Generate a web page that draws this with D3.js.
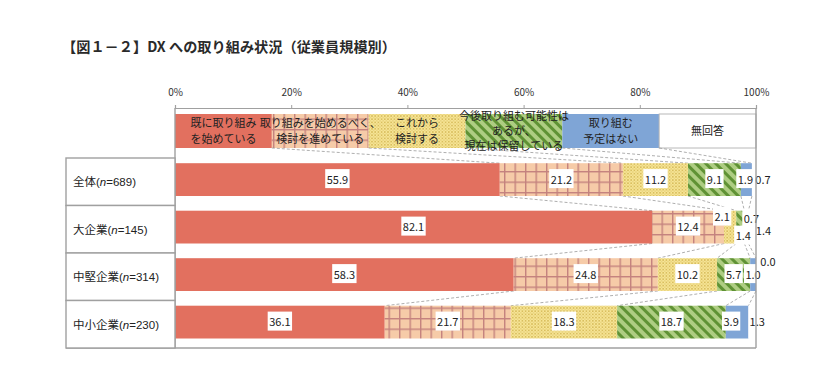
<!DOCTYPE html>
<html><head><meta charset="utf-8">
<script src="https://cdn.jsdelivr.net/npm/d3@7"></script>
<style>
body{margin:0;background:#fff;}
svg{display:block;}
text{font-family:"Noto Sans CJK JP","Noto Sans",sans-serif;}
</style></head>
<body>
<svg id="c" width="826" height="381"></svg>
<script>
const title = "【図１－２】DX への取り組み状況（従業員規模別）";
const categories = ["全体", "大企業", "中堅企業", "中小企業"];
const sampleSizes = [689, 145, 314, 230];
const seriesNames = [
  ["既に取り組み", "を始めている"],
  ["取り組みを始めるべく、", "検討を進めている"],
  ["これから", "検討する"],
  ["今後取り組む可能性は", "あるが、", "現在は保留している"],
  ["取り組む", "予定はない"],
  ["無回答"]
];
const startedValues   = [55.9, 82.1, 58.3, 36.1];
const consideringValues = [21.2, 12.4, 24.8, 21.7];
const fromNowValues   = [11.2, 2.1, 10.2, 18.3];
const onHoldValues    = [9.1, 1.4, 5.7, 18.7];
const noPlanValues    = [1.9, 0.7, 1.0, 3.9];
const noAnswerValues  = [0.7, 1.4, 0.0, 1.3];
const tickValues = [0, 20, 40, 60, 80, 100];
const legendShare = [100/6, 100/6, 100/6, 100/6, 100/6, 100/6];

const series = [startedValues, consideringValues, fromNowValues, onHoldValues, noPlanValues, noAnswerValues];

const svg = d3.select("#c");
const defs = svg.append("defs");

// patterns
const pGrid = defs.append("pattern").attr("id","grid").attr("patternUnits","userSpaceOnUse")
  .attr("width",10.5).attr("height",10.5).attr("x",0).attr("y",3);
pGrid.append("rect").attr("width",10.5).attr("height",10.5).attr("fill","#F6CBA8");
pGrid.append("rect").attr("x",0).attr("y",0).attr("width",1.4).attr("height",10.5).attr("fill","#C4827E");
pGrid.append("rect").attr("x",0).attr("y",0).attr("width",10.5).attr("height",1.4).attr("fill","#C4827E");

const pDots = defs.append("pattern").attr("id","dots").attr("patternUnits","userSpaceOnUse")
  .attr("width",3.2).attr("height",3.2);
pDots.append("rect").attr("width",3.2).attr("height",3.2).attr("fill","#F7E596");
pDots.append("circle").attr("cx",0.8).attr("cy",0.8).attr("r",0.75).attr("fill","#CDAE48");
pDots.append("circle").attr("cx",2.4).attr("cy",2.4).attr("r",0.6).attr("fill","#D8BE5E");

const pStripe = defs.append("pattern").attr("id","stripe").attr("patternUnits","userSpaceOnUse")
  .attr("width",7).attr("height",7).attr("patternTransform","rotate(45)");
pStripe.append("rect").attr("width",7).attr("height",7).attr("fill","#AECD82");
pStripe.append("rect").attr("width",7).attr("height",3).attr("fill","#5F9234");

const fills = ["#E2705F", "url(#grid)", "url(#dots)", "url(#stripe)", "#7FA5D6", "#FFFFFF"];

const x = d3.scaleLinear().domain([0,100]).range([175, 756]);
const rowTop = 158, rowBottom = 348;
const yRow = d3.scaleBand().domain(categories).range([rowTop, rowBottom]).paddingInner(0).paddingOuter(0);
const barPad = 5.2, barH = 32.8;

// title
svg.append("text").attr("x",62).attr("y",52).attr("font-size",14.2).attr("font-weight","bold")
  .attr("fill","#2a2a2a").text(title);

// axis
const axis = d3.axisTop(x).tickValues(tickValues).tickSize(3).tickFormat(d => d + "%");
const gAx = svg.append("g").attr("transform","translate(0,108)").call(axis);
gAx.select(".domain").attr("stroke","#A0A0A0").attr("stroke-width",1.2);
gAx.selectAll(".tick line").attr("stroke","#A0A0A0");
gAx.selectAll(".tick text").attr("y",-12).attr("font-family","Liberation Sans, Arial, sans-serif")
  .attr("font-size",10).attr("fill","#333");

// stacks
const stackData = categories.map((c,i) => {
  let acc = 0;
  return series.map((s,k) => { const v = s[i]; const seg = {k, v, x0: acc, x1: acc + v}; acc += v; return seg; });
});
let accL = 0;
const legendSegs = legendShare.map((v,k) => { const seg = {k, x0: accL, x1: accL + v}; accL += v; return seg; });

// legend row (inside plot)
const legTop = 114, legBot = 148;
const gLeg = svg.append("g");
gLeg.selectAll("rect").data(legendSegs).join("rect")
  .attr("x", d => x(d.x0)).attr("y", legTop)
  .attr("width", d => x(d.x1) - x(d.x0)).attr("height", legBot - legTop)
  .attr("fill", d => fills[d.k]);
gLeg.append("rect").attr("x", x(legendSegs[5].x0)).attr("y", legTop)
  .attr("width", x(100) - x(legendSegs[5].x0)).attr("height", legBot - legTop)
  .attr("fill","none").attr("stroke","#B8B8B8").attr("stroke-width",1);
legendSegs.forEach(d => {
  const lines = seriesNames[d.k];
  const cx = (x(d.x0) + x(d.x1)) / 2;
  const mid = (legTop + legBot) / 2;
  const lh = lines.length === 3 ? 15 : 15.5;
  lines.forEach((ln, j) => {
    const yy = mid + (j - (lines.length - 1) / 2) * lh + 4;
    gLeg.append("text").attr("x", cx).attr("y", yy).attr("text-anchor","middle")
      .attr("font-size",11).attr("fill","#222").text(ln);
  });
});

// series (dashed) lines
const boundaryLevels = [legendSegs.map(d => d.x1)].concat(stackData.map(r => r.map(d => d.x1)));
const levelBottom = [legBot].concat(categories.map(c => yRow(c) + barPad + barH));
const levelTop = [legTop].concat(categories.map(c => yRow(c) + barPad));
const gLines = svg.append("g");
for (let l = 0; l < boundaryLevels.length - 1; l++) {
  for (let k = 0; k < 5; k++) {
    gLines.append("line")
      .attr("x1", x(boundaryLevels[l][k])).attr("y1", levelBottom[l])
      .attr("x2", x(boundaryLevels[l+1][k])).attr("y2", levelTop[l+1])
      .attr("stroke","#9A9A9A").attr("stroke-width",0.8).attr("stroke-dasharray","3,2");
  }
}

// bars
const gBars = svg.append("g");
stackData.forEach((row, i) => {
  gBars.selectAll(null).data(row).join("rect")
    .attr("x", d => x(d.x0)).attr("y", yRow(categories[i]) + barPad)
    .attr("width", d => Math.max(0, x(d.x1) - x(d.x0))).attr("height", barH)
    .attr("fill", d => fills[d.k]);
});

// label offsets (pixel nudges for crowded small segments)
const labelNudge = {
  "0-4": [-1, 0], "0-5": [9, 0],
  "1-2": [-8, -10], "1-3": [3, 9], "1-4": [5, -8], "1-5": [11, 4],
  "2-5": [12, -13],
  "3-4": [-6, 0], "3-5": [5, 0],
};
const gLab = svg.append("g").attr("font-family","Liberation Sans, Arial, sans-serif").attr("font-size",11);
stackData.forEach((row, i) => {
  const cy = yRow(categories[i]) + barPad + barH / 2;
  row.forEach(d => {
    const key = i + "-" + d.k;
    const nd = labelNudge[key] || [0, 0];
    let cx = (x(d.x0) + x(d.x1)) / 2 + nd[0];
    const yy = cy + nd[1];
    const txt = d.v.toFixed(1);
    const t = gLab.append("text").attr("x", cx).attr("y", yy + 4).attr("text-anchor","middle")
      .attr("fill","#222").text(txt);
    const bb = t.node().getBBox();
    if (!(d.k === 5)) {
      gLab.insert("rect", () => t.node())
        .attr("x", bb.x - 1.5).attr("y", bb.y - 1.5).attr("width", bb.width + 3).attr("height", bb.height + 3)
        .attr("fill","#fff");
    }
  });
});

// frame
const frame = svg.append("g").attr("stroke","#A0A0A0").attr("stroke-width",1.4).attr("fill","none");
frame.append("line").attr("x1",175).attr("y1",108).attr("x2",175).attr("y2",rowBottom);
frame.append("line").attr("x1",x(100)).attr("y1",108).attr("x2",x(100)).attr("y2",rowBottom);
frame.append("line").attr("x1",66).attr("y1",rowBottom).attr("x2",x(100)).attr("y2",rowBottom);

// category table
const gTab = svg.append("g");
categories.forEach((c, i) => {
  const y0 = yRow(c);
  gTab.append("rect").attr("x",66).attr("y",y0).attr("width",175-66).attr("height",yRow.bandwidth())
    .attr("fill","#fff").attr("stroke","#A0A0A0").attr("stroke-width",1.4);
  const t = gTab.append("text").attr("x",73).attr("y",y0 + yRow.bandwidth()/2 + 4.5)
    .attr("font-size",11.5).attr("fill","#222");
  t.append("tspan").text(c);
  t.append("tspan").attr("font-family","Liberation Sans, Arial, sans-serif").text("(");
  t.append("tspan").attr("font-family","Liberation Sans, Arial, sans-serif").attr("font-style","italic").text("n");
  t.append("tspan").attr("font-family","Liberation Sans, Arial, sans-serif").text("=" + sampleSizes[i] + ")");
});
</script>
</body></html>
